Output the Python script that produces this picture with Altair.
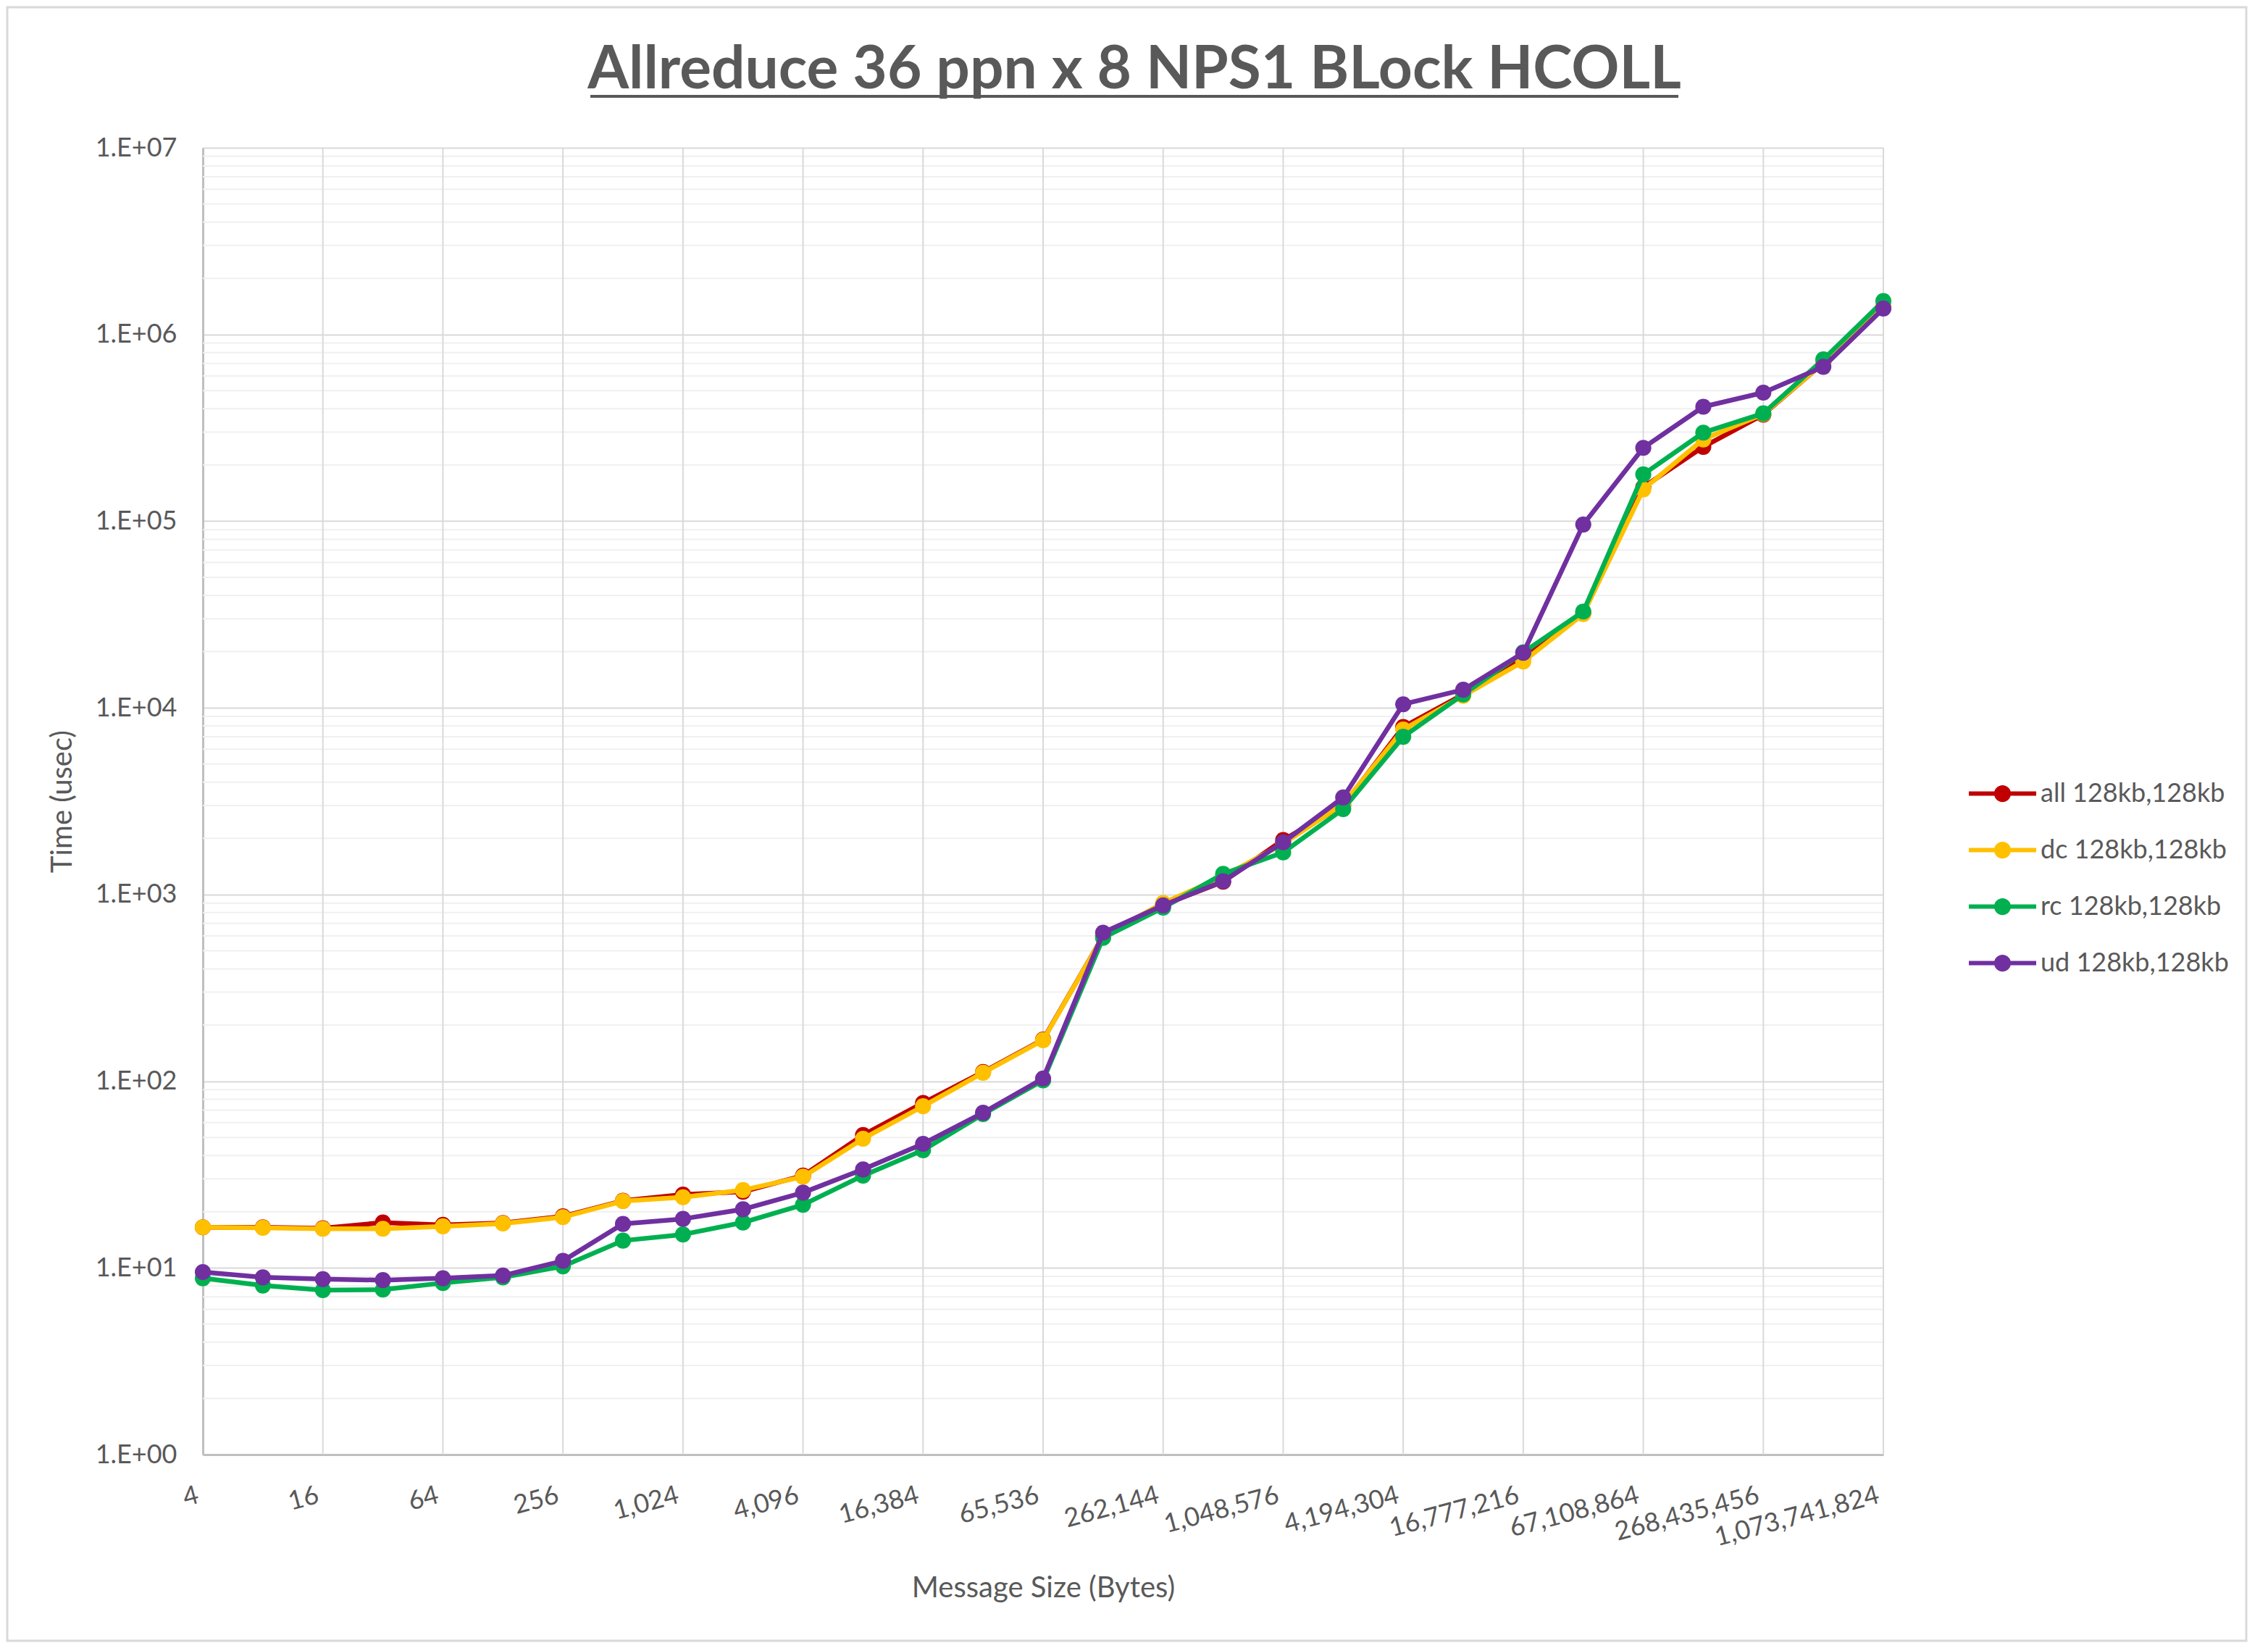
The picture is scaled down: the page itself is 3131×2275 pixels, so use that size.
import pandas as pd
import altair as alt

# message sizes (bytes) and latencies (usec)
sizes = [4, 8, 16, 32, 64, 128, 256, 512, 1024, 2048, 4096, 8192, 16384,
         32768, 65536, 131072, 262144, 524288, 1048576, 2097152, 4194304,
         8388608, 16777216, 33554432, 67108864, 134217728, 268435456,
         536870912, 1073741824]

all_usec = [16.5, 16.5, 16.3, 17.5, 17.0, 17.4, 18.9, 22.9, 24.7, 25.6, 31.2,
            51.5, 76.5, 112, 167, 600, 880, 1170, 1960, 3000, 7900, 11800,
            18700, 32200, 152000, 250000, 372000, 703000, 1400000]
dc_usec = [16.5, 16.4, 16.2, 16.2, 16.7, 17.3, 18.7, 22.8, 23.9, 26.1, 30.8,
           49.2, 73.4, 111, 166, 600, 900, 1250, 1870, 3050, 7650, 11600,
           17700, 31800, 148000, 274000, 375000, 703000, 1420000]
rc_usec = [8.8, 8.05, 7.6, 7.65, 8.3, 8.9, 10.2, 14.0, 15.1, 17.5, 21.8,
           31.2, 42.7, 66.7, 101, 586, 850, 1290, 1680, 2870, 7000, 11800,
           19800, 32800, 178000, 298000, 378000, 735000, 1510000]
ud_usec = [9.5, 8.9, 8.7, 8.6, 8.8, 9.1, 10.9, 17.2, 18.3, 20.6, 25.3,
           33.7, 46.2, 67.8, 103.5, 625, 875, 1178, 1905, 3310, 10450, 12500,
           19700, 95900, 247000, 410000, 488000, 671000, 1377000]

series_names = ["all 128kb,128kb", "dc 128kb,128kb", "rc 128kb,128kb", "ud 128kb,128kb"]
series_colors = ["#C00000", "#FFC000", "#00B050", "#7030A0"]

x_ticks = [4, 16, 64, 256, 1024, 4096, 16384, 65536, 262144, 1048576,
           4194304, 16777216, 67108864, 268435456, 1073741824]
y_ticks = [1, 10, 100, 1000, 10000, 100000, 1000000, 10000000]
y_minor = [m * t for t in y_ticks[:-1] for m in range(2, 10)]

title_text = "Allreduce 36 ppn x 8 NPS1 BLock HCOLL"

FONT = "Lato"
GREY = "#595959"

df = pd.concat([
    pd.DataFrame({"size": sizes, "usec": vals, "series": name})
    for name, vals in zip(series_names, [all_usec, dc_usec, rc_usec, ud_usec])
])

x_enc = alt.X("size:Q",
              scale=alt.Scale(type="log", base=2, domain=[4, 1073741824], nice=False),
              axis=alt.Axis(values=x_ticks, format=",d", labelAngle=345,
                            labelAlign="right", labelBaseline="middle",
                            labelPadding=55, labelOffset=-7, labelFlush=False,
                            labelOverlap=False, labelLimit=600, labelFontSize=36,
                            labelColor=GREY, labelFont=FONT, grid=False, ticks=False,
                            domainColor="#bfbfbf", domainWidth=3,
                            title="Message Size (Bytes)", titleFontSize=40,
                            titleColor=GREY, titleFont=FONT,
                            titleFontWeight="normal", titlePadding=32))
y_enc = alt.Y("usec:Q",
              scale=alt.Scale(type="log", domain=[1, 10000000], nice=False),
              axis=alt.Axis(values=y_ticks,
                            labelExpr="'1.E+0' + round(log(datum.value) / LN10)",
                            grid=True, gridColor="#d9d9d9", gridWidth=2,
                            ticks=False, domainColor="#bfbfbf", domainWidth=3,
                            labelPadding=36, labelFontSize=36, labelColor=GREY,
                            labelFont=FONT, title="Time (usec)", titleFontSize=40,
                            titleColor=GREY, titleFont=FONT,
                            titleFontWeight="normal", titlePadding=25))

minor = alt.Chart(pd.DataFrame({"usec": y_minor})).mark_rule(
    color="#f0f0f0", strokeWidth=2).encode(y=y_enc)
vgrid = alt.Chart(pd.DataFrame({"size": x_ticks[1:]})).mark_rule(
    color="#d9d9d9", strokeWidth=2).encode(x=x_enc)

# legend symbol: short line with a dot in the middle, like Excel's
legend_path = ("M-1.24,-0.08L-0.3,-0.08L-0.3,0.08L-1.24,0.08Z "
               "M0.3,-0.08L1.24,-0.08L1.24,0.08L0.3,0.08Z "
               "M-0.31,0A0.31,0.31,0,1,1,0.31,0A0.31,0.31,0,1,1,-0.31,0Z")
color_scale = alt.Scale(domain=series_names, range=series_colors)
leg = alt.Legend(title=None, orient="none", legendX=2447, legendY=854,
                 symbolType=legend_path, symbolSize=5625, symbolStrokeWidth=0,
                 labelFontSize=36, labelFont=FONT, labelColor=GREY,
                 labelLimit=600, labelOffset=15, rowPadding=22, padding=0)

layers = [minor, vgrid]
for name, col in zip(series_names, series_colors):
    base = alt.Chart(df).transform_filter(alt.datum.series == name)
    line = base.mark_line(strokeWidth=6.5, strokeJoin="round", color=col).encode(
        x=x_enc, y=y_enc)
    pts = base.mark_point(filled=True, size=490, opacity=1).encode(
        x=x_enc, y=y_enc, color=alt.Color("series:N", scale=color_scale, legend=leg))
    layers += [line, pts]

one = pd.DataFrame({"k": [0]})
title = alt.Chart(one).mark_text(
    text=title_text, font=FONT, fontSize=82, fontWeight="bold", color=GREY,
    align="center", baseline="alphabetic").encode(x=alt.value(1286), y=alt.value(-82))
underline = alt.Chart(one).mark_rule(color=GREY, strokeWidth=4).encode(
    x=alt.value(535), x2=alt.value(2037), y=alt.value(-71))
border = alt.Chart(one).mark_rect(fill="transparent", stroke="#d9d9d9", strokeWidth=3).encode(
    x=alt.value(-270), x2=alt.value(2821), y=alt.value(-194), y2=alt.value(2061))
layers += [title, underline, border]

chart = alt.layer(*layers).properties(
    width=2320, height=1804,
    autosize=alt.AutoSizeParams(type="none"),
    padding={"left": 272, "top": 196, "right": 503, "bottom": 259},
    background="white",
).configure_view(strokeWidth=0)

chart.save("out.html", embed_options={"renderer": "svg", "actions": False})
